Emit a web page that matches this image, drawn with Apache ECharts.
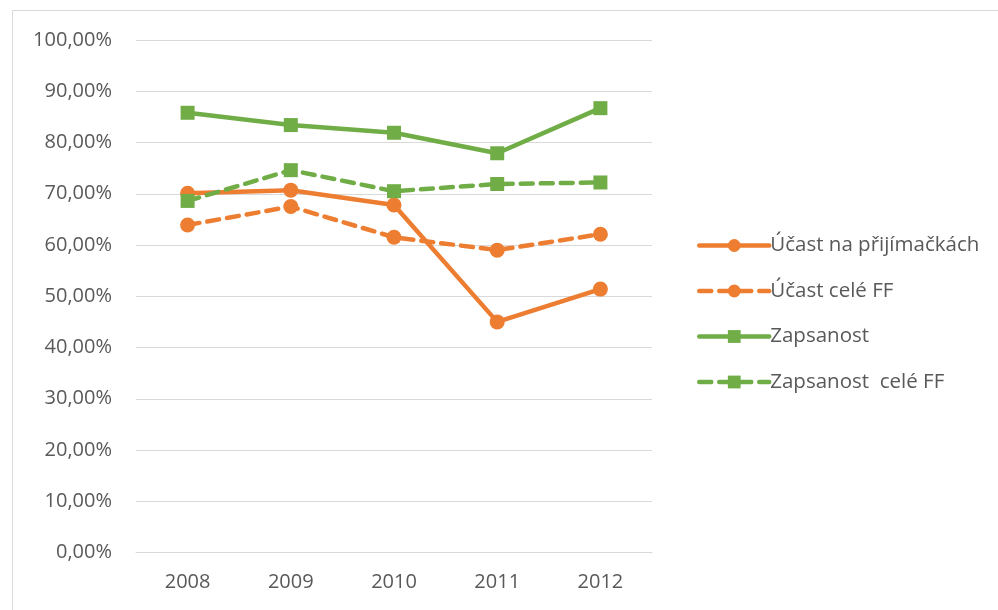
<!DOCTYPE html>
<html>
<head>
<meta charset="utf-8">
<script src="https://cdn.jsdelivr.net/npm/echarts@6/dist/echarts.min.js"></script>
<style>
  html, body { margin: 0; padding: 0; background: #fff; }
  #chart { width: 998px; height: 610px; }
</style>
</head>
<body>
<div id="chart"></div>
<script>
var years = ['2008', '2009', '2010', '2011', '2012'];
var seriesNames = ['Účast na přijímačkách', 'Účast celé FF', 'Zapsanost', 'Zapsanost  celé FF'];
var ucastPrij = [70.1, 70.7, 67.8, 45.0, 51.4];
var ucastFF = [63.9, 67.5, 61.5, 59.0, 62.1];
var zapsanost = [85.8, 83.4, 81.9, 77.9, 86.7];
var zapsanostFF = [68.6, 74.6, 70.5, 71.9, 72.2];

var orange = '#ED7D31';
var green = '#70AD47';
var textColor = '#595959';
var font = 'Open Sans';

function pct(v) {
    return v.toFixed(2).replace('.', ',') + '%';
}

function makeSeries(name, data, color, symbol, dashed) {
    return {
        name: name,
        type: 'line',
        data: data,
        symbol: symbol,
        symbolSize: symbol == 'circle' ? 15 : 14,
        itemStyle: { color: color },
        lineStyle: {
            color: color,
            width: 4.5,
            type: dashed ? [12, 8] : 'solid',
            cap: 'round'
        },
        emphasis: { disabled: true },
        animation: false
    };
}

var myChart = echarts.init(document.getElementById('chart'));

var option = {
    backgroundColor: '#fff',
    textStyle: { fontFamily: font },
    graphic: [{
        type: 'rect',
        shape: { x: 12.5, y: 10.5, width: 1000, height: 700 },
        style: { fill: 'none', stroke: '#d9d9d9', lineWidth: 1 },
        silent: true
    }],
    grid: {
        left: 136,
        right: 346,
        top: 40,
        bottom: 57.5
    },
    legend: {
        orient: 'vertical',
        left: 692,
        top: 230,
        itemWidth: 70,
        itemHeight: 16,
        itemGap: 24.5,
        data: seriesNames,
        lineStyle: { width: 4.5 },
        textStyle: { color: textColor, fontSize: 20.5, fontFamily: font, padding: [0, 0, 0, -4] }
    },
    xAxis: {
        type: 'category',
        data: years,
        boundaryGap: true,
        axisLine: { lineStyle: { color: '#d9d9d9', width: 1 } },
        axisTick: { show: false },
        axisLabel: { color: textColor, fontSize: 20, margin: 20, fontFamily: font }
    },
    yAxis: {
        type: 'value',
        min: 0,
        max: 100,
        interval: 10,
        axisLine: { show: false },
        axisTick: { show: false },
        splitLine: { lineStyle: { color: '#d9d9d9', width: 1 } },
        axisLabel: {
            color: textColor,
            fontSize: 20,
            margin: 24,
            fontFamily: font,
            formatter: pct
        }
    },
    series: [
        makeSeries(seriesNames[0], ucastPrij, orange, 'circle', false),
        makeSeries(seriesNames[1], ucastFF, orange, 'circle', true),
        makeSeries(seriesNames[2], zapsanost, green, 'rect', false),
        makeSeries(seriesNames[3], zapsanostFF, green, 'rect', true)
    ]
};

myChart.setOption(option);
</script>
</body>
</html>
